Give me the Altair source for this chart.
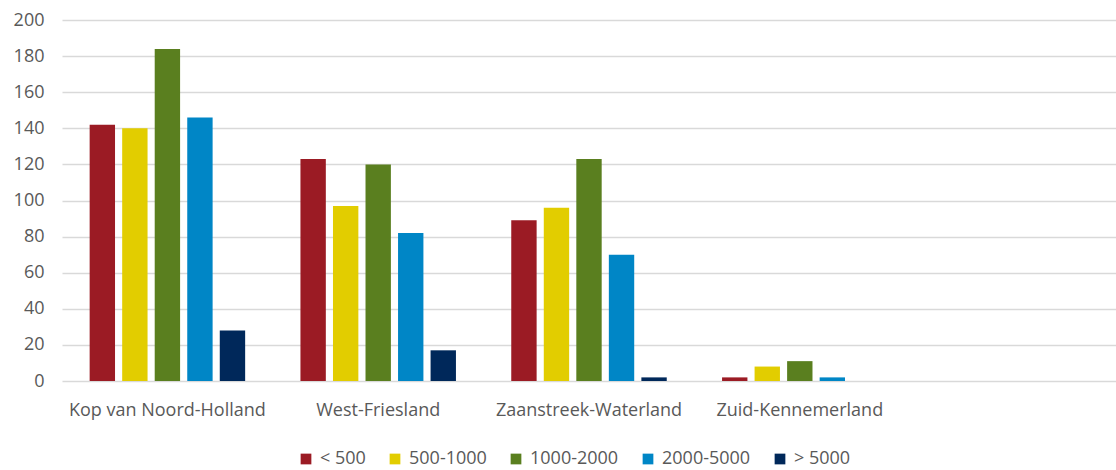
import altair as alt
import pandas as pd

regions = ["Kop van Noord-Holland", "West-Friesland", "Zaanstreek-Waterland", "Zuid-Kennemerland"]
x_domain = regions + [" "]
classes = ["< 500", "500-1000", "1000-2000", "2000-5000", "> 5000"]
colors = ["#9B1B24", "#E2CD00", "#5A7F1F", "#0086C6", "#00285A"]

v_lt500 = [142, 123, 89, 2]
v_500_1000 = [140, 97, 96, 8]
v_1000_2000 = [184, 120, 123, 11]
v_2000_5000 = [146, 82, 70, 2]
v_gt5000 = [28, 17, 2, 0]

series = [v_lt500, v_500_1000, v_1000_2000, v_2000_5000, v_gt5000]
rows = []
for cls, vals in zip(classes, series):
    for reg, v in zip(regions, vals):
        rows.append({"region": reg, "klasse": cls, "value": v})
df = pd.DataFrame(rows)

FONT = "Open Sans"
GRAY = "#595959"

chart = alt.Chart(df).mark_bar().encode(
    x=alt.X("region:N", sort=x_domain,
            scale=alt.Scale(domain=x_domain, paddingInner=0, paddingOuter=0),
            axis=alt.Axis(title=None, labelAngle=0, ticks=False, domain=False, grid=False,
                          domainOpacity=0, gridOpacity=0, tickOpacity=0,
                          labelPadding=20, labelFontSize=18, labelColor=GRAY,
                          labelFont=FONT, labelLimit=400)),
    xOffset=alt.XOffset("klasse:N", sort=classes,
                        scale=alt.Scale(domain=classes, paddingInner=0.22, paddingOuter=0.85)),
    y=alt.Y("value:Q",
            scale=alt.Scale(domain=[0, 200], nice=False),
            axis=alt.Axis(title=None, values=list(range(0, 201, 20)), ticks=False,
                          domain=False, domainOpacity=0, tickOpacity=0,
                          labelPadding=18, labelFontSize=18,
                          labelColor=GRAY, labelFont=FONT,
                          gridColor="#D9D9D9", gridWidth=1.5)),
    color=alt.Color("klasse:N", sort=classes,
                    scale=alt.Scale(domain=classes, range=colors),
                    legend=alt.Legend(title=None, orient="none", direction="horizontal",
                                      legendX=235, legendY=430,
                                      symbolType="square", symbolSize=115,
                                      symbolStrokeWidth=0,
                                      labelFontSize=18, labelColor=GRAY, labelFont=FONT,
                                      labelOffset=5, columnPadding=20)),
).properties(
    width=1054, height=361,
    background="white",
    padding={"left": 62, "top": 20, "right": 0, "bottom": 89},
    autosize=alt.AutoSizeParams(type="none"),
).configure_view(
    stroke="transparent", strokeWidth=0
).configure_axis(
    domain=False, domainOpacity=0
)

chart.save("out.html", embed_options={"renderer": "svg", "actions": False})
